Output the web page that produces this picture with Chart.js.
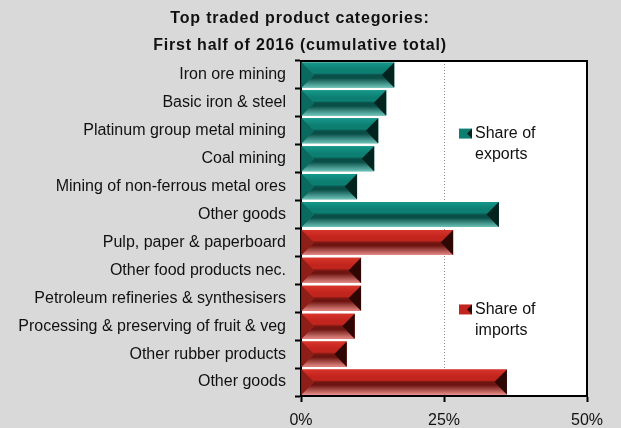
<!DOCTYPE html>
<html>
<head>
<meta charset="utf-8">
<script src="https://cdn.jsdelivr.net/npm/chart.js@4.4.1/dist/chart.umd.min.js"></script>
<style>
  html, body { margin: 0; padding: 0; background: #d9d9d9; }
  .chart-wrap { position: relative; width: 621px; height: 428px; }
</style>
</head>
<body>
<div class="chart-wrap"><canvas id="tradeChart"></canvas></div>
<script>
const categories = [
  "Iron ore mining",
  "Basic iron & steel",
  "Platinum group metal mining",
  "Coal mining",
  "Mining of non-ferrous metal ores",
  "Other goods",
  "Pulp, paper & paperboard",
  "Other food products nec.",
  "Petroleum refineries & synthesisers",
  "Processing & preserving of fruit & veg",
  "Other rubber products",
  "Other goods",
];
const exportShares = [16.3, 14.9, 13.5, 12.8, 9.8, 34.6, null, null, null, null, null, null];
const importShares = [null, null, null, null, null, null, 26.6, 10.5, 10.5, 9.4, 8.0, 36.0];
const shareTicks = [0, 25, 50];
const titleLines = ["Top traded product categories:", "First half of 2016 (cumulative total)"];
const legendLines = [["Share of", "exports"], ["Share of", "imports"]];

const FONT = '"Liberation Sans", Arial, sans-serif';

const barStyles = [
  { face: "#0d7f72", top: "#15988b", mid: "#094f48", left: "#0b6a60", right: "#03231f", bottom: "#6cc3b8" },
  { face: "#c2251e", top: "#d8342b", mid: "#6e1511", left: "#8e1e18", right: "#2e0705", bottom: "#e58a85" },
];

const fillPoly = (ctx, points, fill) => {
  ctx.fillStyle = fill;
  ctx.beginPath();
  points.forEach(([px, py], k) => (k ? ctx.lineTo(px, py) : ctx.moveTo(px, py)));
  ctx.closePath();
  ctx.fill();
};

const drawBevel = (ctx, left, right, top, bottom, style) => {
  const mid = (top + bottom) / 2;
  const b = Math.min((bottom - top) / 2, (right - left) / 2);
  ctx.save();

  const topGrad = ctx.createLinearGradient(0, top, 0, mid);
  topGrad.addColorStop(0, style.top);
  topGrad.addColorStop(0.55, style.face);
  topGrad.addColorStop(0.85, style.face);
  topGrad.addColorStop(1, style.mid);
  fillPoly(ctx, [[left, top], [right, top], [right - b, mid], [left + b, mid]], topGrad);

  const bottomGrad = ctx.createLinearGradient(0, mid, 0, bottom);
  bottomGrad.addColorStop(0, style.mid);
  bottomGrad.addColorStop(0.25, style.mid);
  bottomGrad.addColorStop(1, style.bottom);
  fillPoly(ctx, [[left, bottom], [right, bottom], [right - b, mid], [left + b, mid]], bottomGrad);

  fillPoly(ctx, [[left, top], [left + b, mid], [left, bottom]], style.left);
  fillPoly(ctx, [[right, top], [right - b, mid], [right, bottom]], style.right);
  ctx.restore();
};

const bevelPlugin = {
  id: "bevel",
  afterDatasetsDraw(chart) {
    const { ctx } = chart;
    chart.data.datasets.forEach((dataset, i) => {
      const style = barStyles[i];
      chart.getDatasetMeta(i).data.forEach((bar, j) => {
        if (dataset.data[j] == null) return;
        const { x, y, base, height } = bar.getProps(["x", "y", "base", "height"], true);
        drawBevel(ctx, Math.min(x, base), Math.max(x, base), y - height / 2, y + height / 2, style);
      });
    });
  },
};

const framePlugin = {
  id: "frame",
  beforeDraw(chart) {
    const { ctx, chartArea: area } = chart;
    ctx.save();
    ctx.fillStyle = "#d9d9d9";
    ctx.fillRect(0, 0, chart.width, chart.height);
    ctx.fillStyle = "#ffffff";
    ctx.fillRect(area.left, area.top, area.right - area.left, area.bottom - area.top);
    ctx.restore();
  },
  afterDraw(chart) {
    const { ctx, chartArea: area } = chart;
    ctx.save();
    ctx.strokeStyle = "#000";
    ctx.lineWidth = 2;
    ctx.beginPath();
    ctx.moveTo(area.left, area.top);
    ctx.lineTo(area.right, area.top);
    ctx.lineTo(area.right, area.bottom);
    ctx.stroke();

    // title
    ctx.fillStyle = "#111";
    ctx.font = "bold 16px " + FONT;
    ctx.letterSpacing = "0.8px";
    ctx.textAlign = "center";
    ctx.textBaseline = "middle";
    titleLines.forEach((line, i) => ctx.fillText(line, 300, 19 + i * 27));
    ctx.letterSpacing = "0px";

    // legend, one block beside each group of bars
    const yScale = chart.scales.y;
    const legendX = area.left + 158;
    [[2.1, 0], [8.4, 1]].forEach(([pos, i]) => {
      const cy = yScale.getPixelForValue(pos);
      const style = barStyles[i];
      fillPoly(ctx, [[legendX, cy - 5], [legendX + 13, cy - 5], [legendX + 13, cy + 5], [legendX, cy + 5]], style.face);
      fillPoly(ctx, [[legendX + 13, cy - 5], [legendX + 8, cy], [legendX + 13, cy + 5]], style.right);
      ctx.fillStyle = "#111";
      ctx.font = "16px " + FONT;
      ctx.textAlign = "left";
      legendLines[i].forEach((line, k) => ctx.fillText(line, legendX + 16, cy + k * 21));
    });
    ctx.restore();
  },
};

new Chart(document.getElementById("tradeChart"), {
  type: "bar",
  data: {
    labels: categories,
    datasets: [
      { label: "Share of exports", data: exportShares, backgroundColor: barStyles[0].face },
      { label: "Share of imports", data: importShares, backgroundColor: barStyles[1].face },
    ],
  },
  options: {
    indexAxis: "y",
    responsive: true,
    maintainAspectRatio: false,
    animation: false,
    datasets: { bar: { grouped: false, barPercentage: 0.9, categoryPercentage: 1, borderWidth: 0 } },
    layout: { padding: { top: 61, right: 34, left: 0, bottom: 0 } },
    plugins: { legend: { display: false }, title: { display: false }, tooltip: { enabled: false } },
    scales: {
      x: {
        min: 0,
        max: 50,
        afterBuildTicks: (scale) => { scale.ticks = shareTicks.map((v) => ({ value: v })); },
        afterFit: (scale) => { scale.height = 32; },
        ticks: { color: "#111", font: { family: FONT, size: 16 }, padding: 9, callback: (v) => v + "%" },
        grid: {
          color: (c) => (c.tick && c.tick.value === 25 ? "#8a8a8a" : "rgba(0,0,0,0)"),
          lineWidth: 1,
          tickColor: "#000",
          tickLength: 6,
          tickWidth: 2,
        },
        border: { display: true, color: "#000", width: 2, dash: [1, 2] },
      },
      y: {
        afterFit: (scale) => { scale.width = 301; },
        ticks: { color: "#111", font: { family: FONT, size: 16 }, padding: 9, autoSkip: false },
        grid: { offset: true, drawOnChartArea: false, tickColor: "#000", tickLength: 6, tickWidth: 2 },
        border: { display: true, color: "#000", width: 2 },
      },
    },
  },
  plugins: [bevelPlugin, framePlugin],
});
</script>
</body>
</html>
